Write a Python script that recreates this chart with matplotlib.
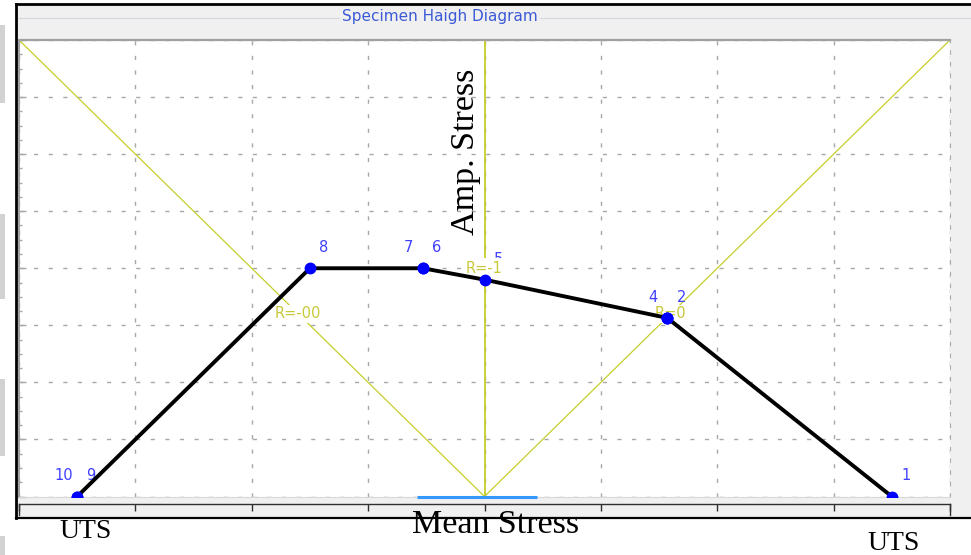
import matplotlib.pyplot as plt
from matplotlib.patches import Rectangle
from matplotlib.lines import Line2D

W, H = 971, 555

# Haigh curve points (mean stress, amplitude stress) in grid units
pt_id = ["1", "2", "3", "4", "5", "6", "7", "8", "9", "10"]
pt_mean = [3.5, 1.57, 1.57, 1.57, 0.0, -0.53, -0.53, -1.5, -3.5, -3.5]
pt_amp = [0.0, 3.13, 3.13, 3.13, 3.8, 4.0, 4.0, 4.0, 0.0, 0.0]

# R-ratio reference lines and their labels
r_labels = ["R=-00", "R=-1", "R=0"]
r_label_x = [-1.6, 0.0, 1.6]
r_label_y = [3.2, 4.0, 3.2]

# mean stress range marker along the x axis
range_mean = [-0.58, 0.455]

x_ticks = list(range(-4, 5))
y_ticks = list(range(0, 9))

YELLOW = "#c5cf2a"
RTEXT = "#c8c83a"
LBLUE = "#4040ff"
GRID = "#a8a8a8"


def fx(px):
    return px / W


def fy(py):
    return 1 - py / H


fig = plt.figure(figsize=(9.71, 5.55), dpi=100)
fig.patch.set_facecolor("white")

# grey window panel with black frame
bg = fig.add_axes([0, 0, 1, 1])
bg.set_xlim(0, W)
bg.set_ylim(H, 0)
bg.axis("off")
bg.add_patch(Rectangle((16, 4), W, 514, facecolor="#f0f0f0", edgecolor="none"))
bg.add_line(Line2D([16, W], [4, 4], color="black", lw=2))
bg.add_line(Line2D([16, 16], [4, 518], color="black", lw=2))
bg.add_line(Line2D([16, W], [518, 518], color="black", lw=1.6))
bg.add_line(Line2D([18, W], [18, 18], color="#d6d6de", lw=0.8))
# stray grey marks on the left edge
for y0, y1 in [(25, 103), (214, 299), (379, 456), (536, 555)]:
    bg.add_patch(Rectangle((0, y0), 5, y1 - y0, facecolor="#d2d2d2", edgecolor="none"))
bg.text(440, 17, "Specimen Haigh Diagram", color="#3c5ad8", fontsize=11,
        family="DejaVu Sans", ha="center", va="center",
        bbox=dict(boxstyle="square,pad=0.15", facecolor="#f0f0f0", edgecolor="none"))

# main plot area
ax = fig.add_axes([fx(19), fy(496.5), fx(931), 456.5 / H])
ax.set_xlim(-4, 4)
ax.set_ylim(0, 8)
ax.set_facecolor("white")
ax.set_xticks(x_ticks)
ax.set_yticks(y_ticks)
ax.set_yticks([v / 4 for v in range(0, 33)], minor=True)
ax.set_xticklabels([])
ax.set_yticklabels([])
ax.tick_params(axis="x", length=0)
ax.tick_params(axis="y", which="major", direction="in", length=5, color=GRID, width=1)
ax.tick_params(axis="y", which="minor", direction="in", length=2.5, color=GRID, width=1)
ax.grid(True, color=GRID, linestyle=(0, (3, 7.5)), linewidth=1.0)
ax.set_axisbelow(True)
ax.spines["top"].set_color("#a0a0a0")
ax.spines["top"].set_linewidth(1.6)
ax.spines["left"].set_color("#a0a0a0")
ax.spines["left"].set_linewidth(1.4)
ax.spines["bottom"].set_color("#d8d8d8")
ax.spines["right"].set_color(GRID)
ax.spines["right"].set_linestyle((0, (3, 7.5)))

# R ratio lines
ax.plot([x_ticks[0], 0, x_ticks[-1]], [y_ticks[-1], 0, y_ticks[-1]], color=YELLOW, lw=0.9, zorder=2)
ax.plot([0, 0], [0, y_ticks[-1]], color=YELLOW, lw=1.3, zorder=2)

# point labels: lowest id to the right, highest to the left
groups = {}
for i, (x, y) in enumerate(zip(pt_mean, pt_amp)):
    groups.setdefault((x, y), []).append(pt_id[i])
for (x, y), ids in groups.items():
    ax.annotate(ids[0], (x, y), xytext=(10, 14.8), textcoords="offset points",
                color=LBLUE, fontsize=10.5, ha="center", va="center", zorder=3)
    if len(ids) > 1:
        ax.annotate(ids[-1], (x, y), xytext=(-10, 14.8), textcoords="offset points",
                    color=LBLUE, fontsize=10.5, ha="center", va="center", zorder=3)

for lab, x, y in zip(r_labels, r_label_x, r_label_y):
    pad = 0.2 if x == 0 else 0.12
    ax.text(x, y, lab, color=RTEXT, fontsize=10.5, ha="center", va="center", zorder=3.5,
            bbox=dict(boxstyle="square,pad=%s" % pad, facecolor="white", edgecolor="none"))

ax.plot(range_mean, [0, 0], color="#3399ff", lw=2.2, zorder=3, clip_on=False,
        solid_capstyle="butt")
ax.plot(pt_mean, pt_amp, color="black", lw=2.8, zorder=4)
ax.plot(pt_mean, pt_amp, "o", color="blue", ms=7.5, zorder=5)

# tick strip under the plot
sx = fig.add_axes([fx(19), fy(515), fx(931), 11 / H])
sx.set_xlim(-4, 4)
sx.set_ylim(0, 1)
sx.patch.set_alpha(0)
sx.set_xticks(x_ticks)
sx.set_yticks([])
sx.set_xticklabels([])
sx.xaxis.tick_top()
sx.tick_params(axis="x", direction="in", length=5, color="#303030", width=1)
sx.spines["bottom"].set_visible(False)
for s in ["top", "left", "right"]:
    sx.spines[s].set_color("#303030")
    sx.spines[s].set_linewidth(1)

serif = ["Liberation Serif", "DejaVu Serif"]
fig.text(fx(86), fy(532), "UTS", family=serif, fontsize=20, ha="center", va="center")
fig.text(fx(894), fy(544), "UTS", family=serif, fontsize=20, ha="center", va="center")
fig.text(fx(496), fy(525), "Mean Stress", family=serif, fontsize=24.5, ha="center", va="center")
fig.text(fx(466), fy(152), "Amp. Stress", family=serif, fontsize=24.5, ha="center", va="center",
         rotation=90)

fig.savefig("out.png", dpi=100)
